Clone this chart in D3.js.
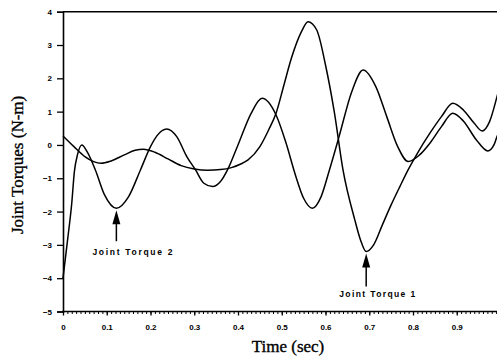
<!DOCTYPE html>
<html>
<head>
<meta charset="utf-8">
<script src="https://cdn.jsdelivr.net/npm/d3@7.9.0/dist/d3.min.js"></script>
<style>
  body { margin: 0; background: #fff; }
  svg { display: block; }
</style>
</head>
<body>
<svg id="chart" width="497" height="358"></svg>
<script>
// values (time in sec, torque in N-m)
const torque2Time = [0, 0.01, 0.02, 0.026, 0.033, 0.043, 0.055, 0.074, 0.095, 0.122, 0.15, 0.177, 0.2, 0.215, 0.237, 0.26, 0.283, 0.303, 0.322, 0.342, 0.36, 0.376, 0.4, 0.43, 0.455, 0.487, 0.51, 0.53, 0.55, 0.57, 0.59, 0.609, 0.631, 0.66, 0.686, 0.715, 0.74, 0.765, 0.789, 0.815, 0.839, 0.865, 0.891, 0.915, 0.945, 0.971, 0.985, 0.992, 1.0];
const torque2Values = [-4.0, -2.9, -1.75, -0.8, -0.3, 0, -0.2, -0.75, -1.5, -1.9, -1.55, -0.75, -0.05, 0.28, 0.48, 0.25, -0.35, -0.75, -1.15, -1.25, -1.1, -0.75, 0.0, 0.95, 1.4, 0.9, 0.05, -0.85, -1.6, -1.9, -1.55, -0.75, 0.25, 1.6, 2.25, 1.75, 0.85, -0.05, -0.5, -0.3, 0.06, 0.55, 0.95, 0.72, 0.15, -0.18, 0.0, 0.25, 0.45];

const torque1Time = [0, 0.025, 0.05, 0.07, 0.087, 0.11, 0.14, 0.165, 0.184, 0.21, 0.24, 0.27, 0.3, 0.33, 0.36, 0.385, 0.405, 0.423, 0.45, 0.47, 0.487, 0.505, 0.522, 0.545, 0.56, 0.58, 0.6, 0.62, 0.64, 0.667, 0.68, 0.693, 0.71, 0.73, 0.75, 0.77, 0.79, 0.81, 0.839, 0.865, 0.891, 0.915, 0.94, 0.958, 0.975, 0.992, 1.0];
const torque1Values = [0.27, -0.05, -0.35, -0.5, -0.55, -0.48, -0.3, -0.16, -0.13, -0.22, -0.42, -0.62, -0.72, -0.76, -0.74, -0.68, -0.58, -0.45, -0.05, 0.45, 0.95, 1.8, 2.6, 3.4, 3.7, 3.45, 2.4, 1.0, -0.75, -2.25, -2.85, -3.2, -3.0, -2.4, -1.8, -1.25, -0.72, -0.25, 0.36, 0.85, 1.25, 1.05, 0.65, 0.42, 0.7, 1.45, 1.85];

const xTickValues = [0, 0.1, 0.2, 0.3, 0.4, 0.5, 0.6, 0.7, 0.8, 0.9];
const yTickValues = [-5, -4, -3, -2, -1, 0, 1, 2, 3, 4];

// annotation targets
const torque2Min = [0.122, -1.9];
const torque1Min = [0.693, -3.2];

const svg = d3.select("#chart");

const x = d3.scaleLinear().domain([0, 1]).range([63, 500.5]);
const y = d3.scaleLinear().domain([-5, 4]).range([311.5, 11.7]);

const series = [
  torque2Time.map((t, i) => [t, torque2Values[i]]),
  torque1Time.map((t, i) => [t, torque1Values[i]])
];

const line = d3.line()
  .x(d => x(d[0]))
  .y(d => y(d[1]))
  .curve(d3.curveMonotoneX);

svg.selectAll("path.curve")
  .data(series)
  .enter()
  .append("path")
  .attr("class", "curve")
  .attr("d", line)
  .attr("fill", "none")
  .attr("stroke", "#000")
  .attr("stroke-width", 1.5);

// x axis: minor ticks every 0.01, labelled majors
const minorTicks = d3.range(0, 100).map(i => i / 100);
svg.append("g")
  .attr("transform", `translate(0,${y(-5)})`)
  .call(d3.axisBottom(x).tickValues(minorTicks).tickSize(2.5).tickFormat(""))
  .call(g => g.select(".domain").remove())
  .selectAll("line").attr("stroke-width", 1);

const xAxis = svg.append("g")
  .attr("transform", `translate(0,${y(-5)})`)
  .call(d3.axisBottom(x).tickValues(xTickValues).tickSizeOuter(0).tickSize(4).tickPadding(9).tickFormat(d => String(d)));
xAxis.select(".domain").attr("stroke-width", 1.6).attr("d", `M${x(0) - 1},0H497`);
xAxis.selectAll("line").attr("stroke-width", 1.3);
xAxis.selectAll("text")
  .attr("font-family", "Liberation Sans, Arial, sans-serif")
  .attr("font-weight", "bold")
  .attr("font-size", "8px")
  .attr("fill", "#000");

// y axis
const yAxis = svg.append("g")
  .attr("transform", `translate(${x(0)},0)`)
  .call(d3.axisLeft(y).tickValues(yTickValues).tickSizeOuter(0).tickSize(6).tickPadding(5));
yAxis.select(".domain").attr("stroke-width", 1.6);
yAxis.selectAll("line").attr("stroke-width", 1.3);
yAxis.selectAll("text")
  .attr("font-family", "Liberation Sans, Arial, sans-serif")
  .attr("font-weight", "bold")
  .attr("font-size", "8px")
  .attr("fill", "#000");

// top frame line
svg.append("line")
  .attr("x1", x(0)).attr("x2", 497)
  .attr("y1", y(4)).attr("y2", y(4))
  .attr("stroke", "#000")
  .attr("stroke-width", 1.6);

// axis titles (scanned look: a hair of stroke)
svg.append("text")
  .attr("x", 288)
  .attr("y", 352)
  .attr("text-anchor", "middle")
  .attr("font-family", "Liberation Serif, Times New Roman, serif")
  .attr("font-size", "17px")
  .attr("stroke", "#000")
  .attr("stroke-width", 0.35)
  .text("Time (sec)");

svg.append("text")
  .attr("transform", `translate(23,${y(-0.6)}) rotate(-90)`)
  .attr("text-anchor", "middle")
  .attr("font-family", "Liberation Serif, Times New Roman, serif")
  .attr("font-size", "17px")
  .attr("stroke", "#000")
  .attr("stroke-width", 0.35)
  .text("Joint Torques (N-m)");

// arrow annotations
const notes = [
  { at: torque2Min, label: "Joint Torque 2", len: 31, dx: 16, dy: 45, w: 80 },
  { at: torque1Min, label: "Joint Torque 1", len: 33, dx: 11, dy: 43, w: 76 }
];

notes.forEach(n => {
  const px = x(n.at[0]);
  const py = y(n.at[1]) + 2;
  svg.append("path")
    .attr("d", `M${px},${py}L${px - 4},${py + 14}L${px + 4},${py + 14}Z`)
    .attr("fill", "#000");
  svg.append("line")
    .attr("x1", px).attr("x2", px)
    .attr("y1", py + 12).attr("y2", py + n.len)
    .attr("stroke", "#000")
    .attr("stroke-width", 1.5);
  svg.append("text")
    .attr("x", px + n.dx)
    .attr("y", py + n.dy)
    .attr("text-anchor", "middle")
    .attr("font-family", "Liberation Sans, Arial, sans-serif")
    .attr("font-weight", "bold")
    .attr("font-size", "8.5px")
    .attr("textLength", n.w)
    .attr("lengthAdjust", "spacing")
    .text(n.label);
});
</script>
</body>
</html>
